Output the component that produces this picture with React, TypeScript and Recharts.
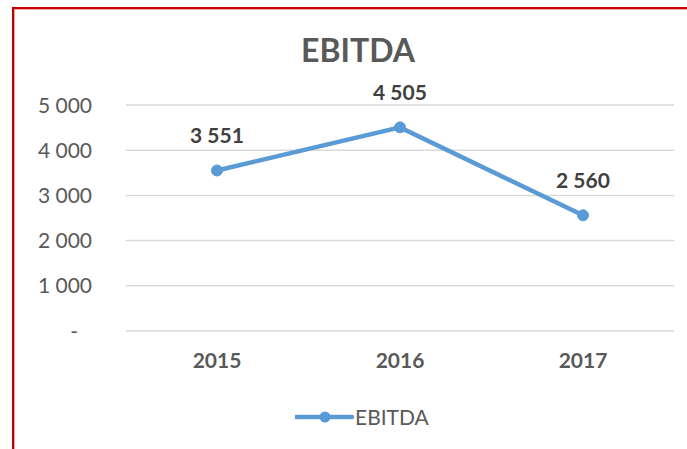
import { LineChart, Line, XAxis, YAxis, CartesianGrid, Legend, LabelList } from 'recharts';

const years = ['2015', '2016', '2017'];
const ebitda = [3551, 4505, 2560];
const yTicks = [0, 1000, 2000, 3000, 4000, 5000];

const data = years.map((year, i) => ({ year, EBITDA: ebitda[i] }));

const BLUE = '#5B9BD5';
const FONT = 'Lato, "Open Sans", sans-serif';

const fmt = (v: number) => String(v).replace(/\B(?=(\d{3})+(?!\d))/g, ' ');

function YTick({ x, y, payload }: any) {
  const v = payload.value as number;
  return (
    <text
      x={v === 0 ? x - 14 : x}
      y={y}
      dy="0.36em"
      textAnchor="end"
      fill="#595959"
      fontSize={21}
      fontFamily={FONT}
    >
      {v === 0 ? '-' : fmt(v)}
    </text>
  );
}

function LegendContent() {
  return (
    <div style={{ display: 'flex', alignItems: 'center', fontFamily: FONT, fontSize: 21, color: '#595959' }}>
      <svg width={60} height={20}>
        <line x1={1} y1={10} x2={57} y2={10} stroke={BLUE} strokeWidth={4.5} strokeLinecap="round" />
        <circle cx={30} cy={10} r={5.5} fill={BLUE} />
      </svg>
      <span>EBITDA</span>
    </div>
  );
}

export default function App() {
  return (
    <div style={{ position: 'absolute', left: 0, top: 0, width: 687, height: 449, background: '#fff', overflow: 'hidden' }}>
      <div
        style={{
          position: 'absolute', left: 12, top: 7, width: 700, height: 460,
          borderTop: '2px solid #c00000', borderLeft: '2px solid #c00000',
          boxShadow: 'inset 1px 1px 0 #f4a4a4',
        }}
      />
      <div
        style={{
          position: 'absolute', left: 258, top: 30, width: 200, textAlign: 'center',
          fontFamily: FONT, fontWeight: 700, fontSize: 32, color: '#595959', lineHeight: '40px',
        }}
      >
        EBITDA
      </div>
      <LineChart width={687} height={449} data={data} margin={{ top: 105, right: 13, bottom: 88, left: 0 }}>
        <CartesianGrid vertical={false} stroke="#d9d9d9" strokeWidth={1.5} />
        <XAxis
          dataKey="year"
          axisLine={false}
          tickLine={false}
          padding={{ left: 91, right: 91 }}
          tickMargin={16}
          height={30}
          tick={{ fill: '#595959', fontSize: 21, fontWeight: 700, fontFamily: FONT }}
        />
        <YAxis
          width={126}
          domain={[0, 5000]}
          ticks={yTicks}
          axisLine={false}
          tickLine={false}
          tickMargin={28}
          tick={<YTick />}
        />
        <Legend
          verticalAlign="middle"
          align="center"
          content={<LegendContent />}
          wrapperStyle={{ position: 'absolute', left: 295, top: 404, width: 'auto' }}
        />
        <Line
          type="linear"
          dataKey="EBITDA"
          stroke={BLUE}
          strokeWidth={4.5}
          dot={{ r: 5.5, fill: BLUE, stroke: BLUE, strokeWidth: 1 }}
          isAnimationActive={false}
        >
          <LabelList
            dataKey="EBITDA"
            position="top"
            offset={27}
            formatter={(v: any) => fmt(v)}
            fill="#404040"
            fontSize={21}
            fontWeight={700}
            fontFamily={FONT}
          />
        </Line>
      </LineChart>
    </div>
  );
}
